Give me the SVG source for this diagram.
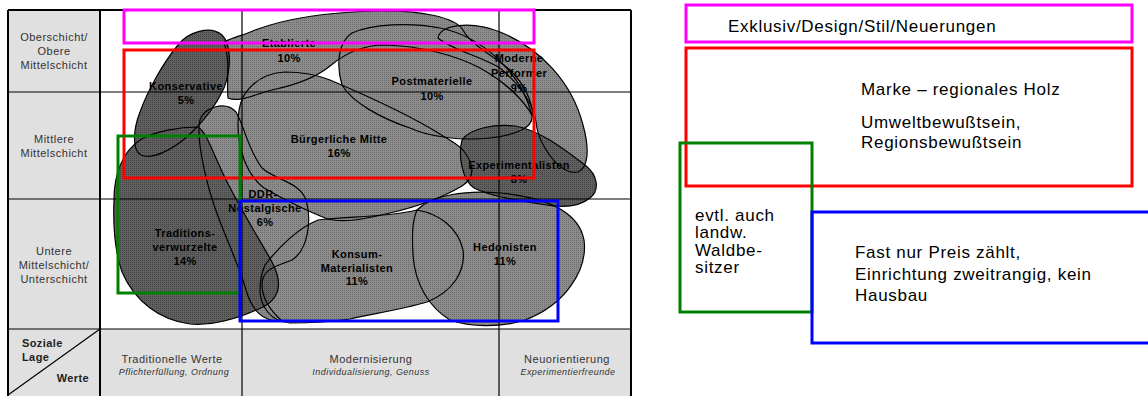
<svg xmlns="http://www.w3.org/2000/svg" width="1148" height="396" viewBox="0 0 1148 396">
<style>
.lf{fill:url(#pl);stroke:none}
.df{fill:url(#pd);stroke:none}
.ol{fill:none;stroke:#000;stroke-width:1.2}
.ml{font-family:"Liberation Sans",Arial,sans-serif;font-size:11px;font-weight:bold;letter-spacing:0.4px;fill:#000;text-anchor:middle}
.ax{font-family:"Liberation Sans",Arial,sans-serif;font-size:11px;letter-spacing:0.5px;fill:#333;text-anchor:middle}
.ai{font-family:"Liberation Sans",Arial,sans-serif;font-size:9px;font-style:italic;letter-spacing:0.45px;fill:#333;text-anchor:middle}
.ab{font-family:"Liberation Sans",Arial,sans-serif;font-size:11px;font-weight:bold;letter-spacing:0.4px;fill:#222}
.rt{font-family:"Liberation Sans",Arial,sans-serif;font-size:17px;letter-spacing:0.7px;fill:#000}
.gl{stroke:#000;stroke-width:1.2;fill:none}
.gt{stroke:#000;stroke-width:2;fill:none}
.bx{fill:none;stroke-width:3}
.mg{stroke:#ff00ff}.rd{stroke:#ff0000}.gr{stroke:#008000}.bl{stroke:#0000ff}
</style>
<defs>
<pattern id="pl" width="2" height="2" patternUnits="userSpaceOnUse"><rect width="2" height="2" fill="#8c8c8c"/><rect width="1" height="1" fill="#6e6e6e"/></pattern>
<pattern id="pd" width="2" height="2" patternUnits="userSpaceOnUse"><rect width="2" height="2" fill="#606060"/><rect width="1" height="1" fill="#444"/></pattern>
<path id="s-etab" d="M 224,42 C 236,36 245,35 255,30 C 290,17 335,12 375,11 C 420,10 455,17 463,30 C 470,44 492,55 510,70 C 524,84 532,100 533,117 C 524,100 505,82 480,68 C 455,55 420,46 385,45 C 360,45 343,55 330,66 C 318,76 300,84 272,90 C 255,94 240,103 228,98 C 226,80 231,62 224,42 Z"/>
<path id="s-post" d="M 342,85 C 336,65 338,42 352,33 C 372,24 410,22 440,28 C 480,36 520,70 532,115 C 534,128 515,135 490,138 C 460,141 430,137 410,128 C 380,118 352,102 342,85 Z"/>
<path id="s-mod" d="M 438,38 C 440,25 470,20 500,32 C 540,48 572,82 583,125 C 590,150 588,168 578,172 C 565,175 552,160 545,148 C 540,140 537,132 536,122 C 533,102 520,85 500,68 C 480,56 452,50 438,38 Z"/>
<path id="s-buerg" d="M 243,97 C 252,82 265,73 285,72 C 300,72 315,74 330,80 C 370,97 415,118 443,136 C 452,141 458,145 463,150 C 475,165 475,178 462,186 C 445,196 420,206 390,213 C 365,219 342,224 325,218 C 305,210 285,200 264,188 C 247,175 238,150 238,125 C 238,112 240,103 243,97 Z"/>
<path id="s-ddr" d="M 200,120 C 203,108 225,100 236,112 C 244,125 248,150 262,168 C 275,180 300,182 306,200 C 312,220 308,250 292,260 C 278,266 262,268 262,285 C 262,300 272,312 282,321 C 262,322 252,310 246,290 C 238,262 224,235 214,205 C 204,175 196,135 200,120 Z"/>
<path id="s-konsum" d="M 265,265 C 278,248 298,228 318,220 C 345,216 385,218 417,210 C 440,214 458,228 463,250 C 466,272 452,292 427,302 C 400,310 370,314 350,319 C 330,322 310,323 290,323 C 270,322 260,305 260,290 C 260,280 262,272 265,265 Z"/>
<path id="s-hedo" d="M 417,210 C 432,195 465,190 500,193 C 540,197 578,208 584,240 C 588,270 565,305 525,320 C 500,328 470,327 450,320 C 430,308 415,285 413,255 C 412,235 412,222 417,210 Z"/>
<path id="s-kons" d="M 178,45 C 188,32 210,25 222,35 C 232,45 231,70 224,88 C 215,108 203,122 188,136 C 172,150 152,160 141,155 C 132,150 133,130 140,112 C 148,90 163,63 178,45 Z"/>
<path id="s-trad" d="M 114,200 C 114,175 122,152 140,140 C 155,131 180,127 198,127 C 206,132 212,150 220,167 C 232,195 255,232 272,262 C 283,283 280,298 263,307 C 240,318 215,326 190,324 C 160,320 135,302 122,272 C 115,252 113,225 114,200 Z"/>
<path id="s-exp" d="M 462,140 C 470,128 495,124 515,126 C 540,130 565,150 585,165 C 598,175 600,190 590,198 C 578,208 560,208 540,204 C 515,200 490,196 474,188 C 462,180 458,155 462,140 Z"/>
</defs>

<g id="chart-background">
<rect x="0" y="0" width="1148" height="396" fill="#fff"/>
<rect x="8" y="10" width="92" height="319" fill="#e0e0e0"/>
<rect x="8" y="329" width="623" height="67" fill="#e0e0e0"/>
</g>

<g id="milieu-fills">
<use href="#s-etab" class="lf"/>
<use href="#s-post" class="lf"/>
<use href="#s-mod" class="lf"/>
<use href="#s-buerg" class="lf"/>
<use href="#s-ddr" class="lf"/>
<use href="#s-konsum" class="lf"/>
<use href="#s-hedo" class="lf"/>
<use href="#s-kons" class="df"/>
<use href="#s-trad" class="df"/>
<use href="#s-exp" class="df"/>
</g>

<g id="milieus">
<g id="etablierte"><use href="#s-etab" class="ol"/><text class="ml" x="289" y="47">Etablierte</text><text class="ml" x="289" y="62">10%</text></g>
<g id="postmaterielle"><use href="#s-post" class="ol"/><text class="ml" x="432" y="85">Postmaterielle</text><text class="ml" x="432" y="100">10%</text></g>
<g id="moderne-performer"><use href="#s-mod" class="ol"/><text class="ml" x="519" y="62">Moderne</text><text class="ml" x="519" y="77">Performer</text><text class="ml" x="519" y="92">9%</text></g>
<g id="buergerliche-mitte"><use href="#s-buerg" class="ol"/><text class="ml" x="339" y="143">Bürgerliche Mitte</text><text class="ml" x="339" y="157">16%</text></g>
<g id="ddr-nostalgische"><use href="#s-ddr" class="ol"/><text class="ml" x="263" y="198">DDR-</text><text class="ml" x="265" y="212">Nostalgische</text><text class="ml" x="265" y="226">6%</text></g>
<g id="konsum-materialisten"><use href="#s-konsum" class="ol"/><text class="ml" x="357" y="258">Konsum-</text><text class="ml" x="357" y="272">Materialisten</text><text class="ml" x="357" y="285">11%</text></g>
<g id="hedonisten"><use href="#s-hedo" class="ol"/><text class="ml" x="505" y="251">Hedonisten</text><text class="ml" x="505" y="265">11%</text></g>
<g id="konservative"><use href="#s-kons" class="ol"/><text class="ml" x="186" y="90">Konservative</text><text class="ml" x="186" y="104">5%</text></g>
<g id="traditionsverwurzelte"><use href="#s-trad" class="ol"/><text class="ml" x="185" y="237">Traditions-</text><text class="ml" x="185" y="251">verwurzelte</text><text class="ml" x="185" y="265">14%</text></g>
<g id="experimentalisten"><use href="#s-exp" class="ol"/><text class="ml" x="519" y="169">Experimentalisten</text><text class="ml" x="519" y="183">8%</text></g>
</g>

<g id="grid">
<line class="gt" x1="8" y1="10" x2="631" y2="10"/>
<line class="gt" x1="8" y1="10" x2="8" y2="396"/>
<line class="gt" x1="631" y1="10" x2="631" y2="396"/>
<line class="gt" x1="100" y1="10" x2="100" y2="396"/>
<line class="gl" x1="242" y1="10" x2="242" y2="396"/>
<line class="gl" x1="499" y1="10" x2="499" y2="396"/>
<line class="gl" x1="8" y1="92" x2="631" y2="92"/>
<line class="gl" x1="8" y1="199" x2="631" y2="199"/>
<line class="gl" x1="8" y1="329" x2="631" y2="329"/>
<line class="gl" x1="8" y1="395" x2="100" y2="329"/>
</g>

<g id="axis-labels">
<text class="ax" x="54" y="41">Oberschicht/</text>
<text class="ax" x="54" y="55">Obere</text>
<text class="ax" x="54" y="69">Mittelschicht</text>
<text class="ax" x="54" y="143">Mittlere</text>
<text class="ax" x="54" y="157">Mittelschicht</text>
<text class="ax" x="54" y="255">Untere</text>
<text class="ax" x="54" y="269">Mittelschicht/</text>
<text class="ax" x="54" y="283">Unterschicht</text>
<text class="ab" x="22" y="347">Soziale</text>
<text class="ab" x="22" y="361">Lage</text>
<text class="ab" x="89" y="382" text-anchor="end">Werte</text>
<text class="ax" x="172" y="363">Traditionelle Werte</text>
<text class="ai" x="174" y="375">Pflichterfüllung, Ordnung</text>
<text class="ax" x="371" y="363">Modernisierung</text>
<text class="ai" x="371" y="375">Individualisierung, Genuss</text>
<text class="ax" x="567" y="363">Neuorientierung</text>
<text class="ai" x="568" y="375">Experimentierfreunde</text>
</g>

<g id="segment-boxes">
<rect class="bx mg" x="124" y="10" width="410" height="33"/>
<rect class="bx rd" x="124" y="50" width="410" height="128"/>
<rect class="bx gr" x="118" y="136" width="122" height="157"/>
<rect class="bx bl" x="240" y="201" width="318" height="120"/>
</g>

<g id="legend">
<g id="legend-exklusiv"><rect class="bx mg" x="686" y="5" width="446" height="37"/><text class="rt" x="728" y="32">Exklusiv/Design/Stil/Neuerungen</text></g>
<g id="legend-marke"><rect class="bx rd" x="686" y="48" width="446" height="138"/><text class="rt" x="861" y="95">Marke – regionales Holz</text><text class="rt" x="861" y="128">Umweltbewußtsein,</text><text class="rt" x="861" y="148">Regionsbewußtsein</text></g>
<g id="legend-wald"><rect class="bx gr" x="680" y="143" width="132" height="169"/><text class="rt" x="695" y="221">evtl. auch</text><text class="rt" x="695" y="238">landw.</text><text class="rt" x="695" y="256">Waldbe-</text><text class="rt" x="695" y="273">sitzer</text></g>
<g id="legend-preis"><rect class="bx bl" x="812" y="212" width="340" height="131"/><text class="rt" x="855" y="258">Fast nur Preis zählt,</text><text class="rt" x="855" y="280">Einrichtung zweitrangig, kein</text><text class="rt" x="855" y="301">Hausbau</text></g>
</g>
</svg>
